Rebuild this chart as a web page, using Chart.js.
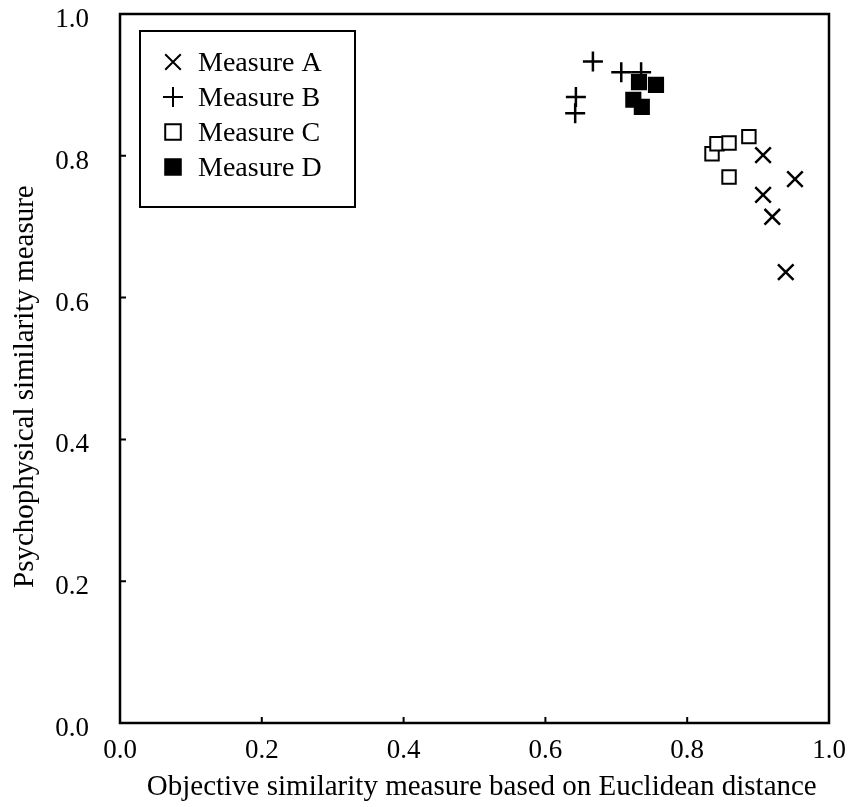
<!DOCTYPE html>
<html>
<head>
<meta charset="utf-8">
<script src="https://cdn.jsdelivr.net/npm/chart.js@4.4.1/dist/chart.umd.min.js"></script>
<style>
  body { margin: 0; background: #fff; }
  #wrap { width: 849px; height: 807px; }
</style>
</head>
<body>
<div id="wrap"><canvas id="myChart"></canvas></div>
<script>
// data
const tickValues = [0, 0.2, 0.4, 0.6, 0.8, 1.0];

const measureA_x = [0.907, 0.952, 0.907, 0.920, 0.939];
const measureA_y = [0.801, 0.767, 0.745, 0.714, 0.636];

const measureB_x = [0.667, 0.707, 0.735, 0.643, 0.642];
const measureB_y = [0.933, 0.918, 0.918, 0.883, 0.860];

const measureC_x = [0.835, 0.842, 0.859, 0.887, 0.859];
const measureC_y = [0.803, 0.817, 0.818, 0.827, 0.770];

const measureD_x = [0.732, 0.756, 0.724, 0.736];
const measureD_y = [0.904, 0.900, 0.879, 0.869];

const toPoints = (xs, ys) => xs.map((x, i) => ({x: x, y: ys[i]}));

const FONT = '"Liberation Serif", "Times New Roman", serif';

// draws the frame + inward tick marks
const framePlugin = {
    id: 'frame',
    afterDraw(chart) {
        const ctx = chart.ctx;
        const a = chart.chartArea;
        const xs = chart.scales.x, ys = chart.scales.y;
        ctx.save();
        ctx.strokeStyle = '#000';
        ctx.lineWidth = 2.5;
        ctx.strokeRect(a.left, a.top, a.right - a.left, a.bottom - a.top);
        ctx.lineWidth = 2;
        ctx.beginPath();
        tickValues.forEach(v => {
            const px = xs.getPixelForValue(v);
            ctx.moveTo(px, a.bottom);
            ctx.lineTo(px, a.bottom - 6);
            const py = ys.getPixelForValue(v);
            ctx.moveTo(a.left, py);
            ctx.lineTo(a.left + 6, py);
        });
        ctx.stroke();
        ctx.restore();
    }
};

// boxed legend inside the plot, upper left
const legendPlugin = {
    id: 'boxLegend',
    afterDraw(chart) {
        const ctx = chart.ctx;
        ctx.save();
        ctx.fillStyle = '#fff';
        ctx.fillRect(140, 31, 215, 176);
        ctx.strokeStyle = '#000';
        ctx.lineWidth = 2;
        ctx.strokeRect(140, 31, 215, 176);
        ctx.font = '28px ' + FONT;
        ctx.textBaseline = 'middle';
        chart.data.datasets.forEach((ds, i) => {
            const y = 62 + i * 35;
            ctx.strokeStyle = '#000';
            ctx.fillStyle = ds.backgroundColor;
            Chart.helpers.drawPoint(ctx, {
                pointStyle: ds.pointStyle,
                radius: ds.legendRadius,
                rotation: 0,
                borderWidth: ds.borderWidth
            }, 173, y);
            ctx.fillStyle = '#000';
            ctx.fillText(ds.label, 198, y + 2);
        });
        ctx.restore();
    }
};

const myChart = new Chart('myChart', {
    type: 'scatter',
    data: {
        datasets: [
            {
            label: 'Measure A',
            data: toPoints(measureA_x, measureA_y),
            pointStyle: 'crossRot',
            pointRadius: 11,
            legendRadius: 11,
            borderColor: '#000',
            backgroundColor: '#000',
            borderWidth: 2.5
            },
            {
            label: 'Measure B',
            data: toPoints(measureB_x, measureB_y),
            pointStyle: 'cross',
            pointRadius: 10,
            legendRadius: 10,
            borderColor: '#000',
            backgroundColor: '#000',
            borderWidth: 2.5
            },
            {
            label: 'Measure C',
            data: toPoints(measureC_x, measureC_y),
            pointStyle: 'rect',
            pointRadius: 9.5,
            legendRadius: 11,
            borderColor: '#000',
            backgroundColor: '#fff',
            borderWidth: 2
            },
            {
            label: 'Measure D',
            data: toPoints(measureD_x, measureD_y),
            pointStyle: 'rect',
            pointRadius: 10,
            legendRadius: 11,
            borderColor: '#000',
            backgroundColor: '#000',
            borderWidth: 2
            },
        ]
    },
    options: {
        responsive: true,
        maintainAspectRatio: false,
        animation: false,
        layout: { padding: { top: 14, right: 20, left: 0, bottom: 0 } },
        plugins: {
            legend: { display: false },
            tooltip: { enabled: false }
        },
        scales: {
            x: {
                type: 'linear',
                min: 0,
                max: 1,
                afterBuildTicks: s => { s.ticks = tickValues.map(v => ({value: v})); },
                afterFit: s => {
                    s.height = 84;
                    s.paddingLeft = 0; s.paddingRight = 0;
                },
                grid: { display: false, drawTicks: false },
                border: { display: false },
                ticks: {
                    color: '#000',
                    padding: 12,
                    maxRotation: 0,
                    font: { family: FONT, size: 27 },
                    callback: v => v.toFixed(1)
                },
                title: {
                    display: true,
                    text: '  Objective similarity measure based on Euclidean distance',
                    color: '#000',
                    font: { family: FONT, size: 29 },
                    padding: { top: 0, bottom: 2 }
                }
            },
            y: {
                type: 'linear',
                min: 0,
                max: 1,
                afterBuildTicks: s => { s.ticks = tickValues.map(v => ({value: v})); },
                afterFit: s => {
                    s.width = 120;
                    s.paddingTop = 0; s.paddingBottom = 0;
                },
                grid: { display: false, drawTicks: false },
                border: { display: false },
                ticks: {
                    color: '#000',
                    padding: 31,
                    labelOffset: 6,
                    font: { family: FONT, size: 27 },
                    callback: v => v.toFixed(1)
                },
                title: {
                    display: true,
                    text: 'Psychophysical similarity measure     ',
                    color: '#000',
                    font: { family: FONT, size: 29 },
                    padding: { top: 8, bottom: 0 }
                }
            }
        }
    },
    plugins: [framePlugin, legendPlugin]
});
</script>
</body>
</html>
